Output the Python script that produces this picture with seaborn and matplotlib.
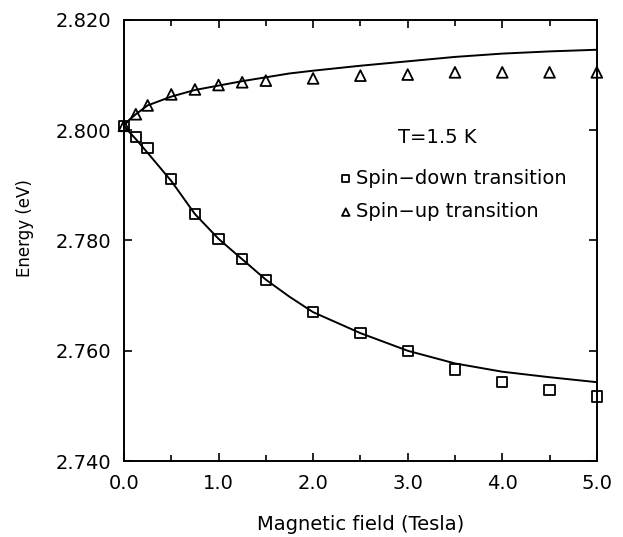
import numpy as np
import pandas as pd
import matplotlib
matplotlib.use("Agg")
import matplotlib.pyplot as plt
import seaborn as sns
from matplotlib.ticker import MultipleLocator, FormatStrFormatter

# measured points (field in Tesla, energy in eV)
field = [0.0, 0.125, 0.25, 0.5, 0.75, 1.0, 1.25, 1.5, 2.0, 2.5, 3.0, 3.5, 4.0, 4.5, 5.0]
spin_down = [2.8008, 2.7988, 2.7968, 2.7911, 2.7848, 2.7803, 2.7767, 2.7728,
             2.7670, 2.7632, 2.7600, 2.7566, 2.7543, 2.7529, 2.7517]
spin_up = [2.8008, 2.8029, 2.8045, 2.8065, 2.8074, 2.8082, 2.8087, 2.8090,
           2.8094, 2.8099, 2.8101, 2.8105, 2.8105, 2.8105, 2.8105]

# fitted curves
fit_field = [0.0, 0.05, 0.125, 0.25, 0.5, 0.75, 1.0, 1.25, 1.5, 1.75, 2.0,
             2.5, 3.0, 3.5, 4.0, 4.5, 5.0]
fit_down = [2.8008, 2.7998, 2.7984, 2.7959, 2.7908, 2.7848, 2.7803, 2.7766,
            2.7729, 2.7698, 2.7670, 2.7632, 2.7600, 2.7577, 2.7562, 2.7552, 2.7543]
fit_up = [2.8008, 2.8018, 2.8029, 2.8045, 2.8061, 2.8073, 2.8081, 2.8089,
          2.8096, 2.8103, 2.8108, 2.8117, 2.8125, 2.8133, 2.8139, 2.8143, 2.8146]

pts = pd.DataFrame({"B": field, "down": spin_down, "up": spin_up})
fit = pd.DataFrame({"B": fit_field, "down": fit_down, "up": fit_up})

sns.set_style("ticks")
plt.rcParams["font.family"] = ["DejaVu Sans"]

fig = plt.figure(figsize=(6.23, 5.37), dpi=100)
ax = fig.add_axes([0.199, 0.1415, 0.759, 0.8213])

sns.lineplot(data=fit, x="B", y="down", color="black", lw=1.4, sort=False,
             estimator=None, ax=ax)
sns.lineplot(data=fit, x="B", y="up", color="black", lw=1.4, sort=False,
             estimator=None, ax=ax)
sns.scatterplot(data=pts, x="B", y="down", marker="s", s=55, facecolors="none",
                edgecolor="black", linewidth=1.3, label="Spin\u2212down transition",
                ax=ax, zorder=3, clip_on=False)
sns.scatterplot(data=pts, x="B", y="up", marker="^", s=60, facecolors="none",
                edgecolor="black", linewidth=1.3, label="Spin\u2212up transition",
                ax=ax, zorder=3, clip_on=False)

ax.set_xlim(0, 5)
ax.set_ylim(2.74, 2.82)
ax.xaxis.set_major_locator(MultipleLocator(1.0))
ax.xaxis.set_minor_locator(MultipleLocator(0.5))
ax.yaxis.set_major_locator(MultipleLocator(0.02))
ax.xaxis.set_major_formatter(FormatStrFormatter("%.1f"))
ax.yaxis.set_major_formatter(FormatStrFormatter("%.3f"))
ax.tick_params(which="both", direction="in", top=True, right=True,
               labelsize=14, width=1.2, colors="black")
ax.tick_params(which="major", length=6, pad=9)
ax.tick_params(which="minor", length=4)
for sp in ax.spines.values():
    sp.set_linewidth(1.4)
    sp.set_color("black")

ax.set_xlabel("Magnetic field (Tesla)", fontsize=14, color="black")
ax.set_ylabel("Energy (eV)", fontsize=12, color="black")
ax.xaxis.set_label_coords(0.5, -0.145)
ax.yaxis.set_label_coords(-0.21, 0.528)
ax.xaxis.label.set_va("center")
ax.yaxis.label.set_va("center")

ax.text(3.31, 2.7986, "T=1.5 K", fontsize=14, ha="center", va="center",
        color="black")
ax.legend(loc="upper left", bbox_to_anchor=(0.43, 0.685), frameon=False,
          fontsize=14, handletextpad=0.1, markerscale=0.7, borderpad=0,
          labelspacing=0.75, handlelength=0.9, labelcolor="black")

fig.savefig("out.png", dpi=100)
